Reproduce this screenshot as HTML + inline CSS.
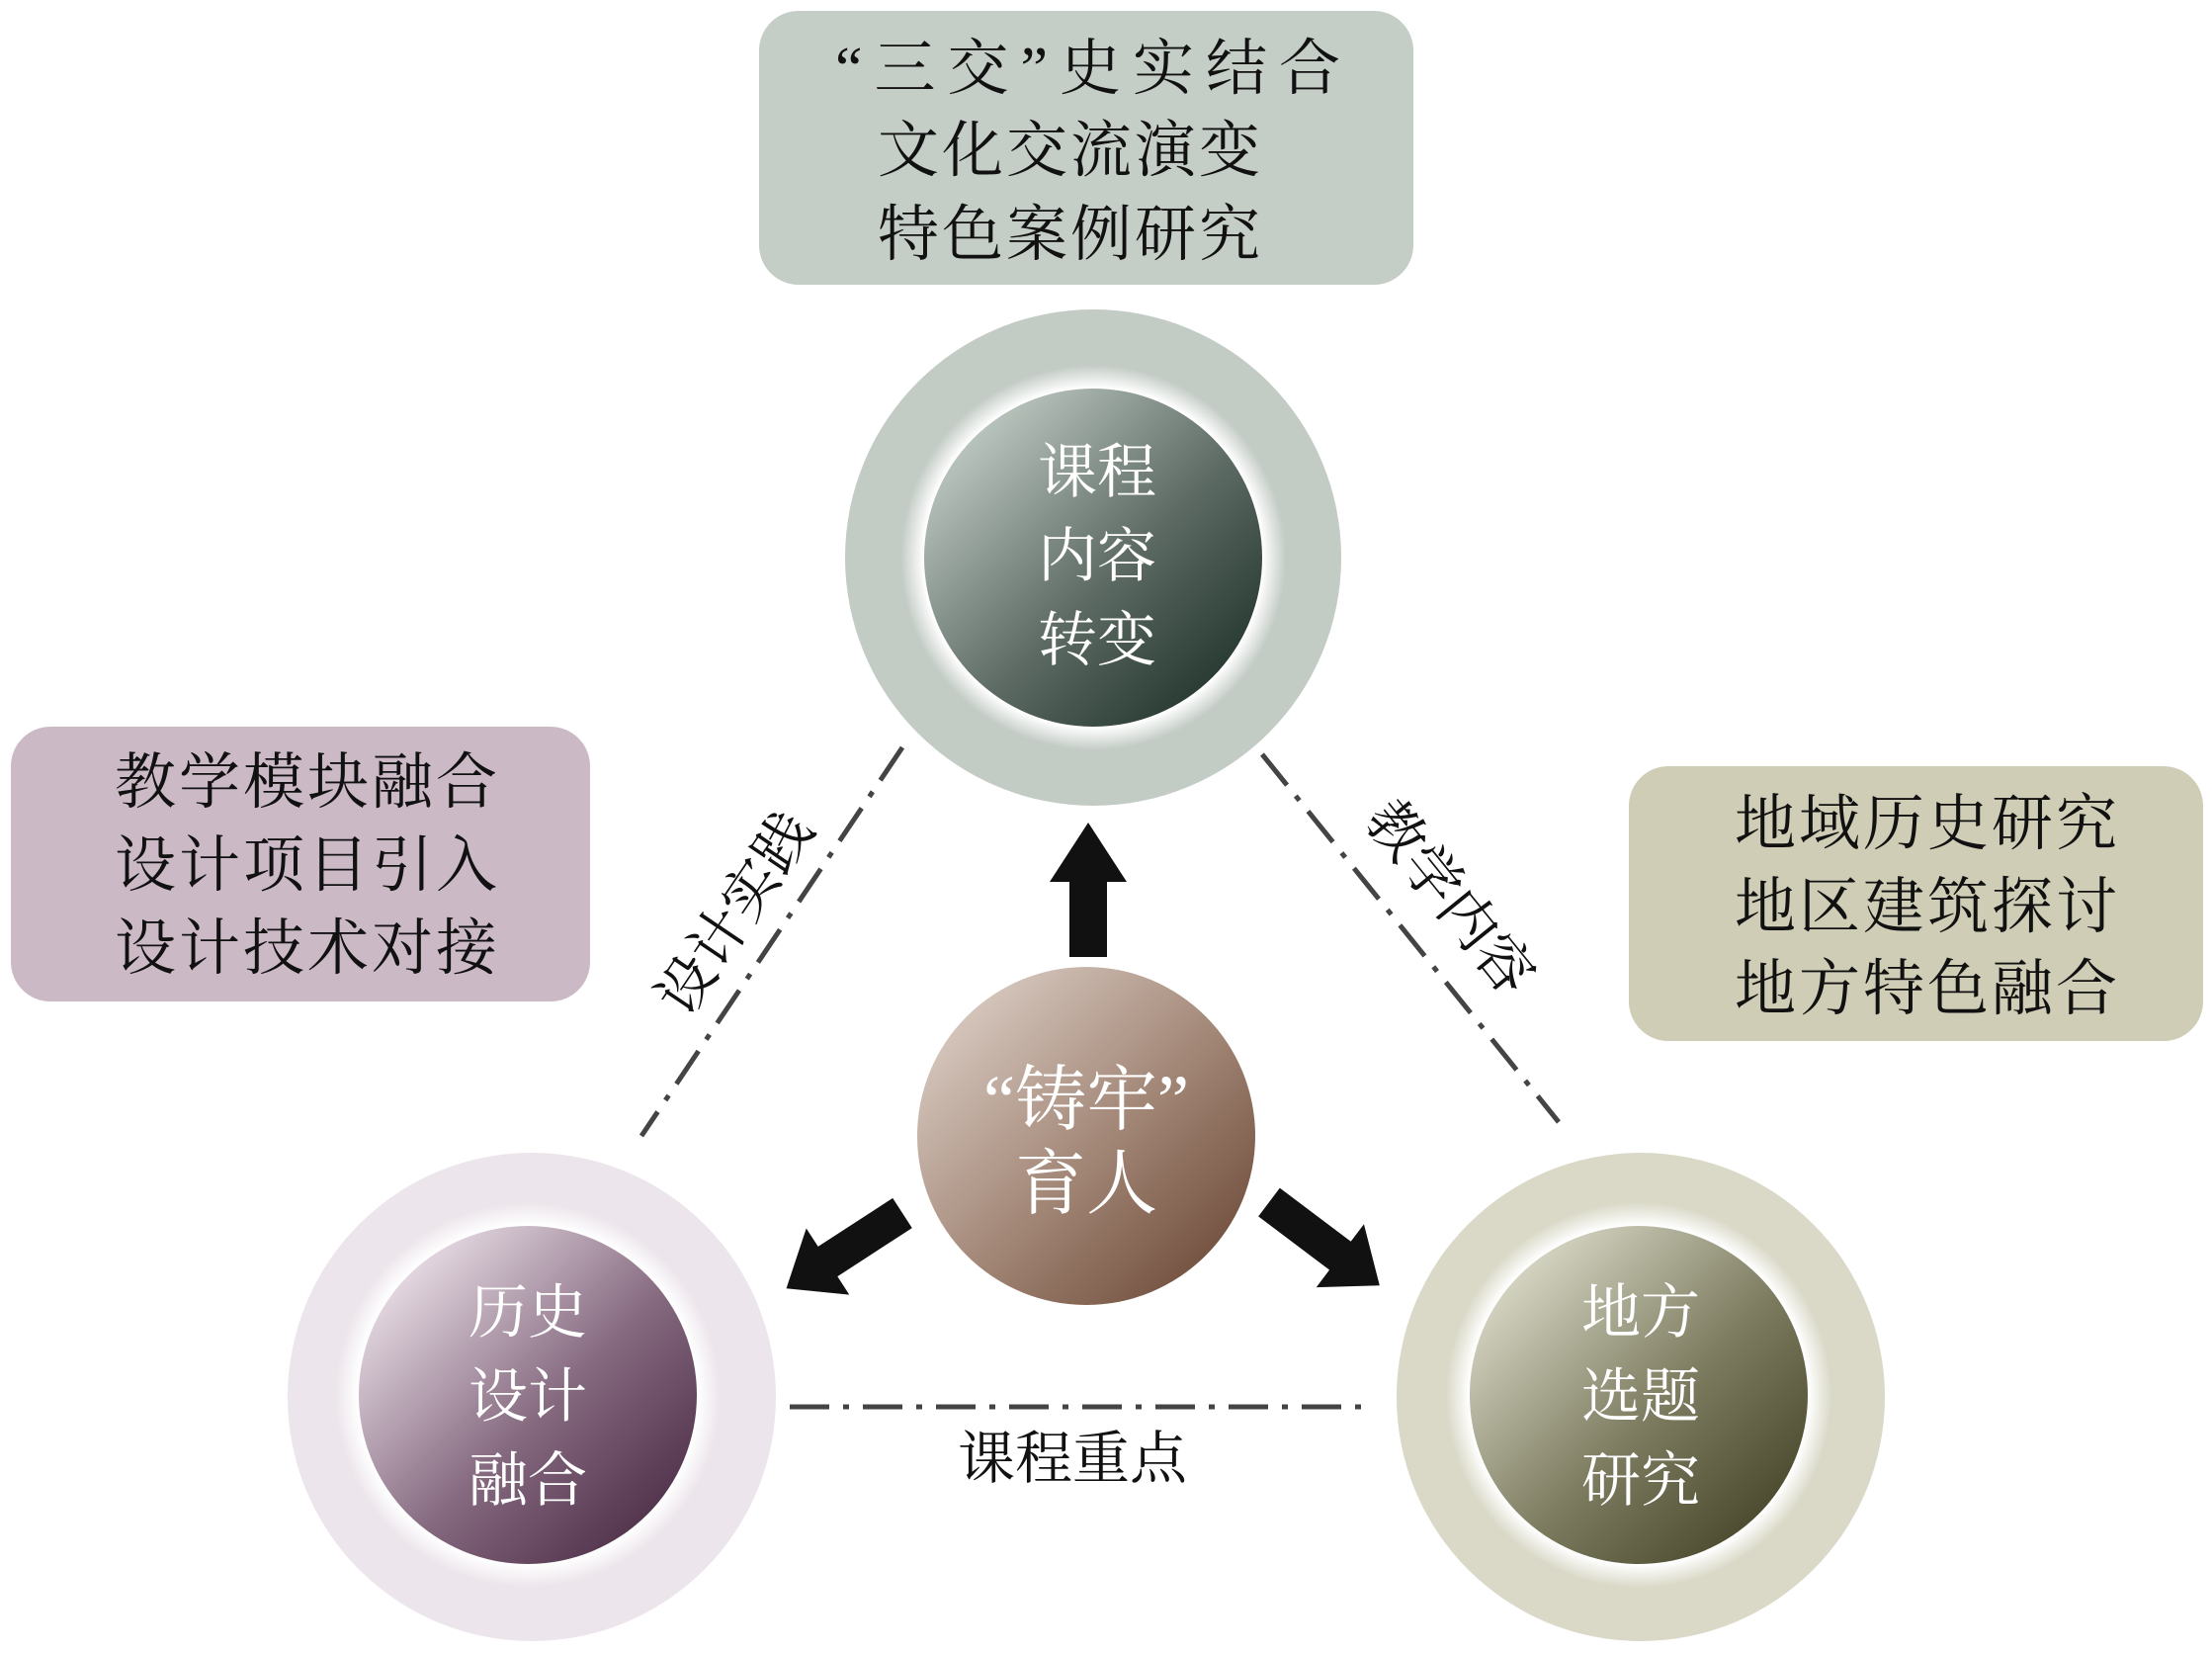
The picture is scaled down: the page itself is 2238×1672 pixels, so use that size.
<!DOCTYPE html>
<html><head><meta charset="utf-8"><style>
html,body{margin:0;padding:0;background:#fff}
svg{display:block}
text{font-family:"Liberation Serif","Noto Serif CJK SC",serif}
</style></head><body>
<svg width="2238" height="1672" viewBox="0 0 2238 1672" xmlns="http://www.w3.org/2000/svg">
<defs>
<linearGradient id="gT" x1="0" y1="0" x2="1" y2="1"><stop offset="0.1" stop-color="#c2cdc6"/><stop offset="0.55" stop-color="#5d6b64"/><stop offset="0.9" stop-color="#22352c"/></linearGradient>
<linearGradient id="gC" x1="0" y1="0" x2="1" y2="1"><stop offset="0.1" stop-color="#d9cbc2"/><stop offset="0.55" stop-color="#a08474"/><stop offset="0.95" stop-color="#6a4634"/></linearGradient>
<linearGradient id="gL" x1="0" y1="0" x2="1" y2="1"><stop offset="0.1" stop-color="#ece2ea"/><stop offset="0.55" stop-color="#85697f"/><stop offset="0.95" stop-color="#45263f"/></linearGradient>
<linearGradient id="gR" x1="0" y1="0" x2="1" y2="1"><stop offset="0.1" stop-color="#dcdccb"/><stop offset="0.55" stop-color="#7d7c60"/><stop offset="0.95" stop-color="#3f3e22"/></linearGradient>
<radialGradient id="glow"><stop offset="0.8" stop-color="#fff"/><stop offset="0.88" stop-color="#fff"/><stop offset="1" stop-color="#fff" stop-opacity="0"/></radialGradient>
</defs>

<rect x="768" y="11" width="662" height="277" rx="40" fill="#c5cdc7"/>
<rect x="11" y="735" width="586" height="278" rx="40" fill="#cbbac6"/>
<rect x="1648" y="775" width="581" height="278" rx="40" fill="#cfcdb6"/>

<g font-size="62" fill="#111" letter-spacing="3">
<text x="845" y="90" letter-spacing="12">“三交”史实结合</text>
<text x="888" y="173">文化交流演变</text>
<text x="888" y="258">特色案例研究</text>
<text x="116" y="812">教学模块融合</text>
<text x="116" y="896">设计项目引入</text>
<text x="116" y="980">设计技术对接</text>
<text x="1755" y="854">地域历史研究</text>
<text x="1755" y="938">地区建筑探讨</text>
<text x="1755" y="1021">地方特色融合</text>
</g>

<g stroke="#444" stroke-width="5" fill="none" stroke-dasharray="40 14 6 14">
<line x1="913" y1="756" x2="649" y2="1149"/>
<line x1="1277" y1="763" x2="1577" y2="1135"/>
<line x1="799" y1="1423" x2="1381" y2="1423"/>
</g>
<g font-size="58" fill="#111">
<text transform="translate(760,935) rotate(-56)" text-anchor="middle">设计实践</text>
<text transform="translate(1452,920) rotate(51)" text-anchor="middle">教学内容</text>
<text x="1085" y="1495" text-anchor="middle">课程重点</text>
</g>

<circle cx="1106" cy="564" r="251" fill="#c3cbc5"/>
<circle cx="1106" cy="564" r="195" fill="url(#glow)"/>
<circle cx="1106" cy="564" r="171" fill="url(#gT)"/>

<circle cx="538" cy="1413" r="247" fill="#ece5eb"/>
<circle cx="534" cy="1411" r="195" fill="url(#glow)"/>
<circle cx="534" cy="1411" r="171" fill="url(#gL)"/>

<circle cx="1660" cy="1413" r="247" fill="#dad9c8"/>
<circle cx="1658" cy="1411" r="195" fill="url(#glow)"/>
<circle cx="1658" cy="1411" r="171" fill="url(#gR)"/>

<circle cx="1099" cy="1149" r="171" fill="url(#gC)"/>

<g fill="#111">
<polygon points="1101,832 1140,892 1120,892 1120,968 1082,968 1082,892 1062,892"/>
<g transform="translate(913,1227) rotate(147)"><polygon points="0,-18 90,-18 90,-40 140,0 90,40 90,18 0,18"/></g>
<g transform="translate(1284,1216) rotate(37)"><polygon points="0,-18 90,-18 90,-40 140,0 90,40 90,18 0,18"/></g>
</g>

<g font-size="60" fill="#fff" text-anchor="middle">
<text x="1110" y="498">课程</text>
<text x="1110" y="583">内容</text>
<text x="1110" y="668">转变</text>
<text x="534" y="1348">历史</text>
<text x="534" y="1433">设计</text>
<text x="534" y="1518">融合</text>
<text x="1660" y="1348">地方</text>
<text x="1660" y="1433">选题</text>
<text x="1660" y="1518">研究</text>
</g>
<g font-size="72" fill="#fff" text-anchor="middle">
<text x="1099" y="1137">“铸牢”</text>
<text x="1099" y="1222">育人</text>
</g>
</svg>
</body></html>
